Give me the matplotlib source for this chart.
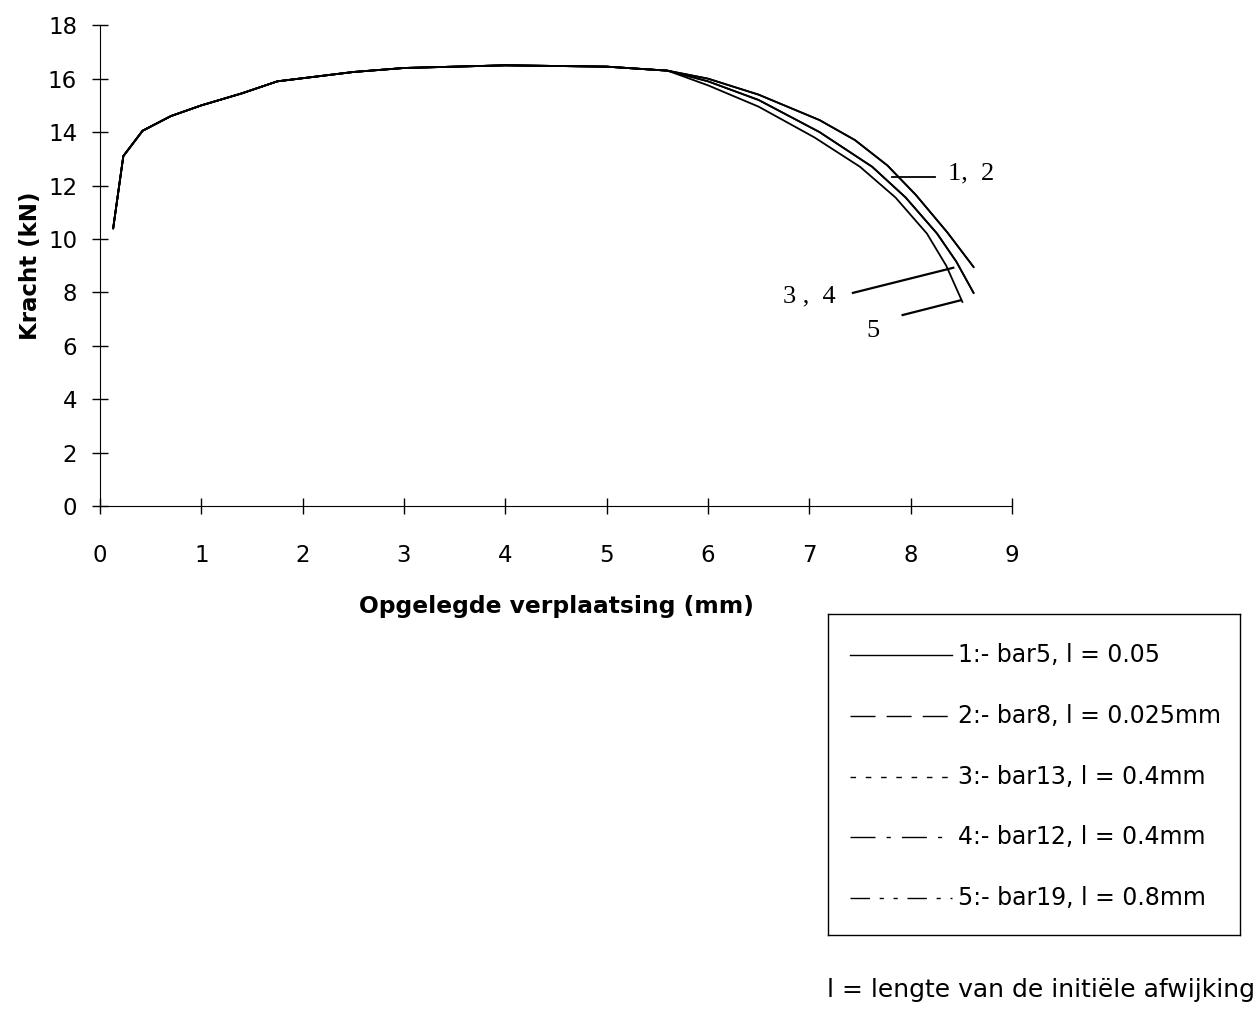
import matplotlib.pyplot as plt

# gemeenschappelijk begin van alle krommen
x_common = [0.13, 0.23, 0.42, 0.7, 1.0, 1.4, 1.75, 2.5, 3.0, 4.0, 5.0, 5.6]
y_common = [10.4, 13.1, 14.05, 14.6, 15.0, 15.45, 15.9, 16.25, 16.4, 16.5, 16.45, 16.3]

# afloop na ~5.6 mm (1 en 2 vallen samen, 3 en 4 ook)
x_tail_12 = [6.0, 6.5, 7.1, 7.45, 7.77, 8.05, 8.36, 8.62]
y_tail_12 = [16.0, 15.4, 14.45, 13.7, 12.75, 11.65, 10.25, 8.95]
x_tail_34 = [6.0, 6.5, 7.1, 7.62, 7.95, 8.26, 8.45, 8.62]
y_tail_34 = [15.9, 15.2, 14.0, 12.7, 11.55, 10.2, 9.15, 7.98]
x_tail_5 = [6.0, 6.5, 7.05, 7.5, 7.85, 8.16, 8.35, 8.51]
y_tail_5 = [15.75, 14.95, 13.8, 12.7, 11.55, 10.2, 9.0, 7.64]

labels = ['1:- bar5, l = 0.05', '2:- bar8, l = 0.025mm', '3:- bar13, l = 0.4mm',
          '4:- bar12, l = 0.4mm', '5:- bar19, l = 0.8mm']
tails = [(x_tail_12, y_tail_12), (x_tail_12, y_tail_12), (x_tail_34, y_tail_34),
         (x_tail_34, y_tail_34), (x_tail_5, y_tail_5)]
dashes = [None, (18, 8), (4, 7), (18, 8, 3, 8), (14, 7, 3, 7, 3, 7)]

plt.rcParams['font.family'] = ['DejaVu Sans']

fig = plt.figure(figsize=(12.58, 10.10), dpi=100)
ax = fig.add_axes([0.0795, 0.499, 0.725, 0.476])

for xt, yt in tails:
    ax.plot(x_common + xt, y_common + yt, color='black', linewidth=1.3)

ax.set_xlim(0, 9)
ax.set_ylim(0, 18)
ax.set_xticks(range(0, 10))
ax.set_yticks(range(0, 19, 2))
ax.spines['top'].set_visible(False)
ax.spines['right'].set_visible(False)
ax.tick_params(axis='both', direction='inout', length=11, width=1, labelsize=16.5)
ax.tick_params(axis='x', pad=22)
ax.tick_params(axis='y', pad=11)
ax.set_xlabel('Opgelegde verplaatsing (mm)', fontsize=16.8, fontweight='bold', labelpad=20)
ax.set_ylabel('Kracht (kN)', fontsize=16.5, fontweight='bold', labelpad=4)

# labels bij de krommen
serif = dict(family='Liberation Serif', fontsize=19, va='center')
ax.plot([7.82, 8.24], [12.3, 12.3], color='black', linewidth=1.3)
ax.text(8.37, 12.45, '1,  2', **serif)
ax.plot([7.43, 8.42], [7.98, 8.92], color='black', linewidth=1.6)
ax.text(6.74, 7.85, '3 ,  4', **serif)
ax.plot([7.92, 8.49], [7.15, 7.7], color='black', linewidth=1.6)
ax.text(7.56, 6.55, '5', **serif)

# legenda als eigen kader
lg = fig.add_axes([828 / 1258, 1 - 935 / 1010, 412 / 1258, 321 / 1010])
lg.set_xlim(828, 1240)
lg.set_ylim(935, 614)
lg.set_xticks([])
lg.set_yticks([])
for s in lg.spines.values():
    s.set_linewidth(1.0)
for i, (lab, d) in enumerate(zip(labels, dashes)):
    yy = 655 + i * 60.8
    ln, = lg.plot([850, 952], [yy, yy], color='black', linewidth=1.0)
    if d is not None:
        ln.set_dashes(d)
    lg.text(958, yy, lab, fontsize=17, va='center', ha='left')

fig.text(827 / 1258, 1 - 990 / 1010, 'l = lengte van de initiële afwijking', fontsize=18, va='center')

fig.savefig('out.png', dpi=100)
